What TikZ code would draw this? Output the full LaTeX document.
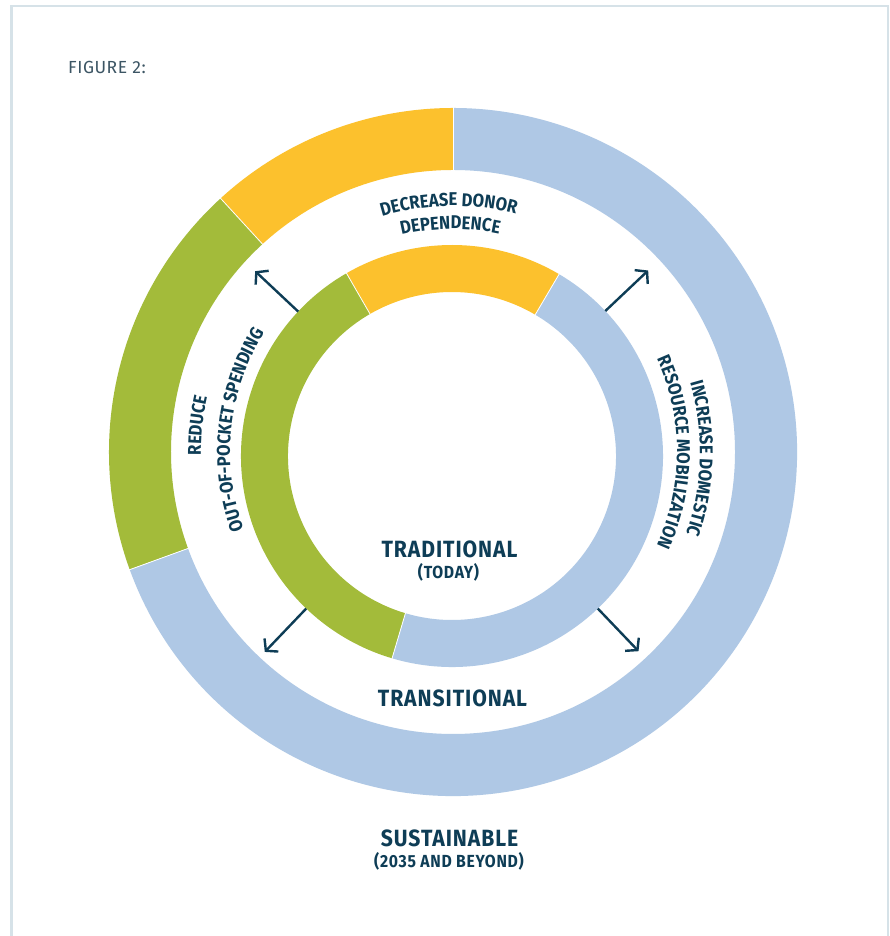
\documentclass[tikz,border=0pt]{standalone}
\usepackage{fontspec}
\setmainfont{Fira Sans}
\newfontfamily\cf[FakeStretch=0.9,LetterSpace=4]{Fira Sans}
\newfontfamily\cfc[FakeStretch=0.9]{Fira Sans}
\newfontfamily\cfr[FakeStretch=1.0,LetterSpace=3]{Fira Sans}
\usetikzlibrary{calc,decorations.text,arrows.meta}
\definecolor{ylw}{RGB}{252,193,45}
\definecolor{grn}{RGB}{163,187,58}
\definecolor{blu}{RGB}{175,200,229}
\definecolor{navy}{RGB}{14,61,86}
\definecolor{frm}{RGB}{214,226,232}
\definecolor{figc}{RGB}{60,85,100}
\def\curvfont{\cfc\bfseries\fontsize{18.5}{18.5}\selectfont}
\def\rseg#1#2#3#4#5#6{\fill[#6] ($(#1)+(#2:#4pt)$) arc[start angle=#2,end angle=#3,radius=#4pt] -- ($(#1)+(#3:#5pt)$) arc[start angle=#3,end angle=#2,radius=#5pt] -- cycle;}
\def\rsep#1#2#3#4{\draw[white,line width=0.8pt] ($(#1)+(#2:#3pt)$) -- ($(#1)+(#2:#4pt)$);}
\tikzset{
  curv/.style={decorate, decoration={text along path, text align=center, text color=navy, text={#1}}},
  arr/.style={draw=navy, line width=2.4pt, -{Straight Barb[length=8pt,width=19pt]}},
  big/.style={text=navy, font=\cf\bfseries\fontsize{23.5}{23.5}\selectfont, inner sep=0pt, anchor=base},
  small/.style={text=navy, font=\cf\bfseries\fontsize{17.5}{17.5}\selectfont, inner sep=0pt, anchor=base},
  framel/.style={draw=frm, line width=2.6pt}
}
\begin{document}
\begin{tikzpicture}[x=1pt,y=1pt]
\useasboundingbox (0,0) rectangle (889,936);
\fill[white] (0,0) rectangle (889,936);
% frame
\coordinate (f1) at (11.5,0);
\coordinate (f2) at (11.5,930);
\coordinate (f3) at (887.8,930);
\coordinate (f4) at (887.8,0);
\draw[framel] (f1) -- (f2) -- (f3) -- (f4);
\node[text=figc, font=\cfr\fontsize{17.5}{17.5}\selectfont, inner sep=0pt, anchor=base west] (fig) at (68,862) {FIGURE 2:};
% centres
\coordinate (C) at (453,484);
\coordinate (Ci) at (452,480);
% outer ring
\rseg{C}{90}{132.5}{344}{282}{ylw}
\rseg{C}{132.5}{200}{344}{282}{grn}
\rseg{C}{200}{450}{344}{282}{blu}
\rsep{C}{90}{281}{345}
\rsep{C}{132.5}{281}{345}
\rsep{C}{200}{281}{345}
% inner ring
\rseg{Ci}{59.5}{120}{211}{164}{ylw}
\rseg{Ci}{120}{253.5}{211}{164}{grn}
\rseg{Ci}{253.5}{419.5}{211}{164}{blu}
\rsep{Ci}{59.5}{163}{212}
\rsep{Ci}{120}{163}{212}
\rsep{Ci}{253.5}{163}{212}
% arrows
\coordinate (a1s) at ($(Ci)+(136.8:211pt)$);
\coordinate (a1e) at ($(Ci)+(136.8:270pt)$);
\coordinate (a2s) at ($(Ci)+(43.4:211pt)$);
\coordinate (a2e) at ($(Ci)+(43.4:270pt)$);
\coordinate (a3s) at ($(Ci)+(226.3:211pt)$);
\coordinate (a3e) at ($(Ci)+(226.3:271pt)$);
\coordinate (a4s) at ($(Ci)+(313.7:211pt)$);
\coordinate (a4e) at ($(Ci)+(313.7:270pt)$);
\draw[arr] (a1s) -- (a1e);
\draw[arr] (a2s) -- (a2e);
\draw[arr] (a3s) -- (a3e);
\draw[arr] (a4s) -- (a4e);
% curved labels
\path[curv={|\curvfont|DECREASE DONOR}] ($(C)+(131:246pt)$) arc[start angle=131,end angle=51,radius=246pt];
\path[curv={|\curvfont|DEPENDENCE}] ($(C)+(130.7:223pt)$) arc[start angle=130.7,end angle=50.7,radius=223pt];
\path[curv={|\curvfont|REDUCE}] ($(C)+(214:252pt)$) arc[start angle=214,end angle=134,radius=252pt];
\path[curv={|\curvfont|OUT-OF-POCKET SPENDING}] ($(C)+(214:223pt)$) arc[start angle=214,end angle=134,radius=223pt];
\path[curv={|\curvfont|INCREASE DOMESTIC}] ($(C)+(38.5:247pt)$) arc[start angle=38.5,end angle=-41.5,radius=247pt];
\path[curv={|\curvfont|RESOURCE MOBILIZATION}] ($(C)+(40:224pt)$) arc[start angle=40,end angle=-40,radius=224pt];
% central labels
\node[big] (trad) at (449.5,378) {TRADITIONAL};
\node[small] (today) at (448.5,357) {(TODAY)};
\node[big] (trans) at (452.5,229) {TRANSITIONAL};
\node[big] (sust) at (449.5,89) {SUSTAINABLE};
\node[small] (beyond) at (449,68) {(2035 AND BEYOND)};
\end{tikzpicture}
\end{document}
